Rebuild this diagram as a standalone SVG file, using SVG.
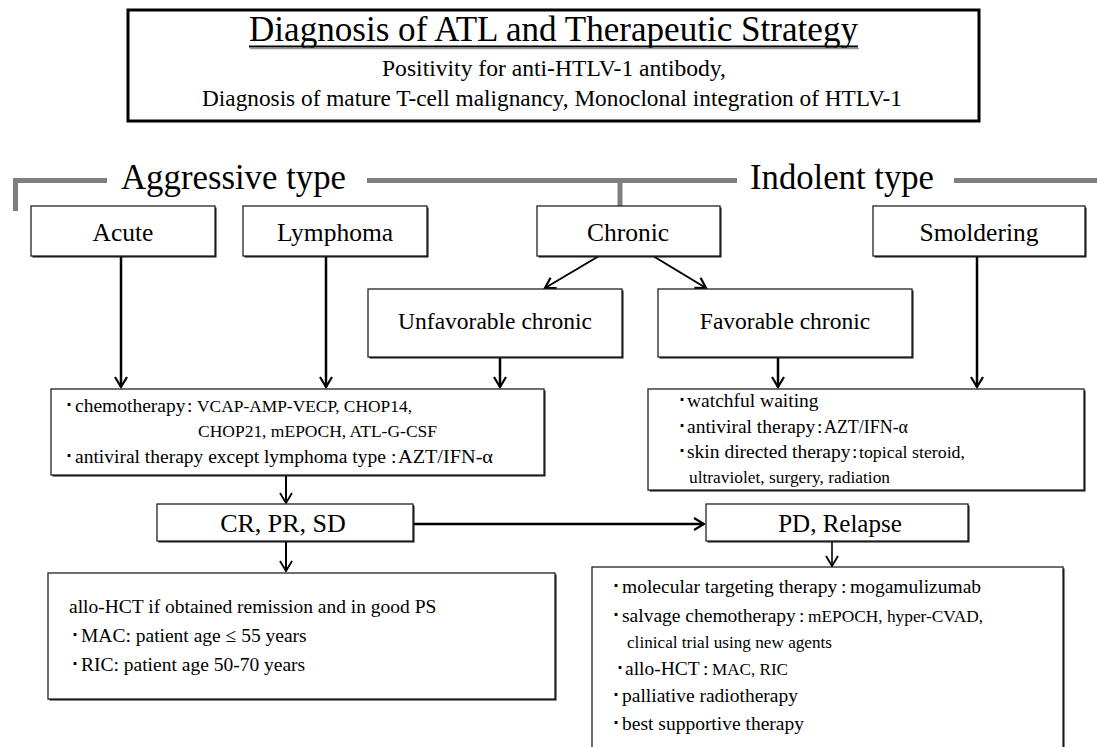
<svg xmlns="http://www.w3.org/2000/svg" width="1097" height="747" viewBox="0 0 1097 747">
<style>
.bx{fill:#fff;stroke:#222;stroke-width:1.3}
.sh{fill:#111;stroke:none}
.gr{stroke:#7f7f7f;stroke-width:5;fill:none}
.c{stroke:#000;fill:none}
</style>
<defs>
<marker id="ah" viewBox="-12 -8 14 16" refX="0" refY="0" markerWidth="14" markerHeight="16" markerUnits="userSpaceOnUse" orient="auto">
<path d="M-10,-6 L0,0 L-10,6" fill="none" stroke="#000" stroke-width="2.2"/>
</marker>
<marker id="ah2" viewBox="-12 -8 14 16" refX="0" refY="0" markerWidth="14" markerHeight="16" markerUnits="userSpaceOnUse" orient="auto">
<path d="M-10,-6 L0,0 L-10,6" fill="none" stroke="#000" stroke-width="1.8"/>
</marker>
</defs>
<rect width="1097" height="747" fill="#fff"/>

<g id="title" font-family="'Liberation Serif', serif">
<rect x="128" y="10" width="851" height="111" fill="#fff" stroke="#000" stroke-width="3"/>
<text x="553.5" y="40.5" font-size="36.5" text-anchor="middle" textLength="609" lengthAdjust="spacingAndGlyphs">Diagnosis of ATL and Therapeutic Strategy</text>
<line x1="249" y1="46.5" x2="858" y2="46.5" stroke="#000" stroke-width="2"/>
<line x1="250" y1="48.5" x2="859" y2="48.5" stroke="#999" stroke-width="1.5"/>
<text x="554" y="76" font-size="23" text-anchor="middle" textLength="344" lengthAdjust="spacingAndGlyphs">Positivity for anti-HTLV-1 antibody,</text>
<text x="552" y="106" font-size="23" text-anchor="middle" textLength="700" lengthAdjust="spacingAndGlyphs">Diagnosis of mature T-cell malignancy, Monoclonal integration of HTLV-1</text>
</g>

<g id="type-brackets" font-family="'Liberation Serif', serif">
<path class="gr" d="M15.5,211 V180.5 H107 M367,180.5 H737 M954,180.5 H1097 M620,180.5 V206"/>
<text x="121" y="189" font-size="35" textLength="225" lengthAdjust="spacingAndGlyphs">Aggressive type</text>
<text x="750" y="189" font-size="35" textLength="184" lengthAdjust="spacingAndGlyphs">Indolent type</text>
</g>

<g id="connectors">
<line class="c" x1="121" y1="256" x2="121" y2="387" stroke-width="2.5" marker-end="url(#ah)"/>
<line class="c" x1="326" y1="256" x2="326" y2="387" stroke-width="2.5" marker-end="url(#ah)"/>
<line class="c" x1="977" y1="256" x2="977" y2="387" stroke-width="2.5" marker-end="url(#ah)"/>
<line class="c" x1="599" y1="256" x2="545" y2="288" stroke-width="2" marker-end="url(#ah)"/>
<line class="c" x1="653" y1="256" x2="706" y2="288" stroke-width="2" marker-end="url(#ah)"/>
<line class="c" x1="500" y1="358" x2="500" y2="387" stroke-width="2.5" marker-end="url(#ah)"/>
<line class="c" x1="778" y1="358" x2="778" y2="387" stroke-width="2.5" marker-end="url(#ah)"/>
<line class="c" x1="286" y1="476" x2="286" y2="503" stroke-width="2" marker-end="url(#ah2)"/>
<line class="c" x1="286" y1="541" x2="286" y2="571" stroke-width="2" marker-end="url(#ah2)"/>
<line class="c" x1="414" y1="524" x2="704" y2="524" stroke-width="2.5" marker-end="url(#ah)"/>
<line class="c" x1="832" y1="541" x2="832" y2="566" stroke-width="1.6" marker-end="url(#ah2)"/>
</g>

<g id="acute" font-family="'Liberation Serif', serif" font-size="25.5" text-anchor="middle">
<rect class="sh" x="32.5" y="207.5" width="184" height="50"/>
<rect class="bx" x="31" y="206" width="184" height="50"/>
<text x="123" y="241">Acute</text>
</g>
<g id="lymphoma" font-family="'Liberation Serif', serif" font-size="25.5" text-anchor="middle">
<rect class="sh" x="244.5" y="207.5" width="184" height="50"/>
<rect class="bx" x="243" y="206" width="184" height="50"/>
<text x="335" y="241">Lymphoma</text>
</g>
<g id="chronic" font-family="'Liberation Serif', serif" font-size="25.5" text-anchor="middle">
<rect class="sh" x="538.5" y="207.5" width="183" height="50"/>
<rect class="bx" x="537" y="206" width="183" height="50"/>
<text x="628" y="241">Chronic</text>
</g>
<g id="smoldering" font-family="'Liberation Serif', serif" font-size="25.5" text-anchor="middle">
<rect class="sh" x="874.5" y="207.5" width="212" height="50"/>
<rect class="bx" x="873" y="206" width="212" height="50"/>
<text x="979" y="241">Smoldering</text>
</g>

<g id="unfavorable" font-family="'Liberation Serif', serif" font-size="23.5" text-anchor="middle">
<rect class="sh" x="369.5" y="290.5" width="254" height="68"/>
<rect class="bx" x="368" y="289" width="254" height="68"/>
<text x="495" y="329">Unfavorable chronic</text>
</g>
<g id="favorable" font-family="'Liberation Serif', serif" font-size="23.5" text-anchor="middle">
<rect class="sh" x="659.5" y="290.5" width="254" height="68"/>
<rect class="bx" x="658" y="289" width="254" height="68"/>
<text x="785" y="329">Favorable chronic</text>
</g>

<g id="aggressive-therapy" font-family="'Liberation Serif', serif" font-size="19.5">
<rect class="sh" x="52.5" y="390.5" width="493" height="86"/>
<rect class="bx" x="51" y="389" width="493" height="86"/>
<text y="412"><tspan x="64">･</tspan><tspan x="75">chemotherapy</tspan><tspan x="187">:</tspan></text>
<text x="197" y="412" font-size="17" textLength="215" lengthAdjust="spacingAndGlyphs">VCAP-AMP-VECP, CHOP14,</text>
<text x="198" y="437" font-size="17" textLength="239" lengthAdjust="spacingAndGlyphs">CHOP21, mEPOCH, ATL-G-CSF</text>
<text y="463"><tspan x="64">･</tspan><tspan x="75">antiviral therapy except lymphoma type</tspan><tspan x="391">:</tspan></text>
<text x="398" y="463" textLength="95" lengthAdjust="spacingAndGlyphs">AZT/IFN-α</text>
</g>

<g id="indolent-therapy" font-family="'Liberation Serif', serif" font-size="19.5">
<rect class="sh" x="649.5" y="390.5" width="436" height="101"/>
<rect class="bx" x="648" y="389" width="436" height="101"/>
<text y="407"><tspan x="677">･</tspan><tspan x="687">watchful waiting</tspan></text>
<text y="433"><tspan x="677">･</tspan><tspan x="687">antiviral therapy</tspan><tspan x="817">:</tspan></text>
<text x="824" y="433" font-size="18" textLength="84" lengthAdjust="spacingAndGlyphs">AZT/IFN-α</text>
<text y="458"><tspan x="677">･</tspan><tspan x="687">skin directed therapy</tspan><tspan x="852">:</tspan></text>
<text x="859" y="458" font-size="17.5" textLength="106" lengthAdjust="spacingAndGlyphs">topical steroid,</text>
<text x="689" y="483" font-size="17" textLength="201" lengthAdjust="spacingAndGlyphs">ultraviolet, surgery, radiation</text>
</g>

<g id="cr-pr-sd" font-family="'Liberation Serif', serif">
<rect class="sh" x="158.5" y="505.5" width="256" height="37"/>
<rect class="bx" x="157" y="504" width="256" height="37"/>
<text x="283" y="532" font-size="26" text-anchor="middle">CR, PR, SD</text>
</g>
<g id="pd-relapse" font-family="'Liberation Serif', serif">
<rect class="sh" x="707.5" y="505.5" width="262" height="37"/>
<rect class="bx" x="706" y="504" width="262" height="37"/>
<text x="840" y="532" font-size="25" text-anchor="middle">PD, Relapse</text>
</g>

<g id="allo-hct" font-family="'Liberation Serif', serif" font-size="19.5">
<rect class="sh" x="49.5" y="574.5" width="507" height="126"/>
<rect class="bx" x="48" y="573" width="507" height="126"/>
<text x="69" y="613">allo-HCT if obtained remission and in good PS</text>
<text y="642"><tspan x="70">･</tspan><tspan x="81">MAC: patient age ≤ 55 years</tspan></text>
<text y="671"><tspan x="70">･</tspan><tspan x="81">RIC: patient age 50-70 years</tspan></text>
</g>

<g id="salvage" font-family="'Liberation Serif', serif" font-size="19.5">
<rect class="sh" x="593.5" y="568.5" width="471" height="200"/>
<rect class="bx" x="592" y="567" width="471" height="200"/>
<text y="593"><tspan x="611">･</tspan><tspan x="622">molecular targeting therapy</tspan><tspan x="841">:</tspan><tspan x="850">mogamulizumab</tspan></text>
<text y="622"><tspan x="611">･</tspan><tspan x="622">salvage chemotherapy</tspan><tspan x="799">:</tspan></text>
<text x="808" y="622" font-size="17" textLength="175" lengthAdjust="spacingAndGlyphs">mEPOCH, hyper-CVAD,</text>
<text x="627" y="648" font-size="17" textLength="205" lengthAdjust="spacingAndGlyphs">clinical trial using new agents</text>
<text y="675"><tspan x="615">･</tspan><tspan x="625">allo-HCT</tspan><tspan x="703">:</tspan></text>
<text x="712" y="675" font-size="17" textLength="76" lengthAdjust="spacingAndGlyphs">MAC, RIC</text>
<text y="702"><tspan x="611">･</tspan><tspan x="622">palliative radiotherapy</tspan></text>
<text y="730"><tspan x="611">･</tspan><tspan x="622">best supportive therapy</tspan></text>
</g>
</svg>
